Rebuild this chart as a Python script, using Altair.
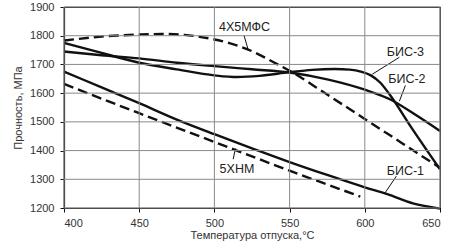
import altair as alt
import pandas as pd

# --- data ---
t_bis3 = [400, 425, 450, 475, 500, 515, 530, 550, 565, 580, 590, 598, 604, 610, 617, 630, 650]
v_bis3 = [1775, 1740, 1706, 1683, 1662, 1656, 1660, 1673, 1681, 1684, 1682, 1674, 1662, 1638, 1592, 1488, 1335]

t_bis2 = [400, 425, 450, 475, 500, 525, 550, 575, 600, 617, 635, 650]
v_bis2 = [1745, 1732, 1721, 1706, 1694, 1683, 1672, 1648, 1612, 1578, 1520, 1468]

t_4x5 = [400, 425, 450, 465, 480, 495, 510, 525, 540, 550, 575, 600, 625, 650]
v_4x5 = [1783, 1797, 1804, 1806, 1803, 1792, 1774, 1746, 1706, 1678, 1595, 1510, 1425, 1340]

t_5xnm = [400, 450, 500, 550, 597]
v_5xnm = [1632, 1530, 1430, 1330, 1240]

t_bis1 = [400, 425, 450, 475, 500, 525, 550, 575, 600, 615, 632, 650]
v_bis1 = [1675, 1620, 1565, 1508, 1457, 1408, 1360, 1315, 1272, 1248, 1216, 1198]

labels = ["4Х5МФС", "5ХНМ", "БИС-3", "БИС-2", "БИС-1"]
label_t = [520, 515, 627, 628, 627]
label_v = [1832, 1335, 1745, 1648, 1329]
lead_t1 = [519.7, 514, 623, 627, 621]
lead_v1 = [1801, 1407, 1725, 1627, 1311]
lead_t2 = [522.4, 512.5, 605, 623, 613]
lead_v2 = [1752, 1370, 1666, 1572, 1249]

x_ticks = [400, 450, 500, 550, 600, 650]
y_ticks = [1200, 1300, 1400, 1500, 1600, 1700, 1800, 1900]

FONT = "Liberation Sans"
W, H = 376, 201

xs = alt.Scale(domain=[400, 650], nice=False)
ys = alt.Scale(domain=[1200, 1900], nice=False)

x_axis = alt.Axis(values=x_ticks, title="Температура отпуска,°С",
                  format="d", labelOverlap=False, titlePadding=1)
y_axis = alt.Axis(values=y_ticks, title="Прочность, МПа",
                  format="d", labelOverlap=False, titlePadding=6)

GRID = "#8a8a8a"
vgrid = alt.Chart(pd.DataFrame({"gt": x_ticks})).mark_rule(
    strokeWidth=1).encode(
    x=alt.X("gt:Q", scale=xs, axis=x_axis),
    color=alt.value(GRID))
hgrid = alt.Chart(pd.DataFrame({"gv": y_ticks})).mark_rule(
    strokeWidth=1).encode(
    y=alt.Y("gv:Q", scale=ys, axis=y_axis),
    color=alt.value(GRID))


def series(t, v, dashed=False):
    df = pd.DataFrame({"t": t, "v": v})
    kw = dict(color="#111111", strokeWidth=2.4, interpolate="monotone")
    if dashed:
        kw["strokeDash"] = [10, 5]
    return alt.Chart(df).mark_line(**kw).encode(
        x=alt.X("t:Q", scale=xs, axis=x_axis),
        y=alt.Y("v:Q", scale=ys, axis=y_axis),
    )


lines = [
    series(t_bis3, v_bis3),
    series(t_bis2, v_bis2),
    series(t_4x5, v_4x5, dashed=True),
    series(t_5xnm, v_5xnm, dashed=True),
    series(t_bis1, v_bis1),
]

lab_df = pd.DataFrame({"label": labels, "t": label_t, "v": label_v,
                       "t1": lead_t1, "v1": lead_v1, "t2": lead_t2, "v2": lead_v2})

leaders = alt.Chart(lab_df).mark_rule(color="#111111", strokeWidth=1).encode(
    x=alt.X("t1:Q", scale=xs, axis=x_axis), y=alt.Y("v1:Q", scale=ys, axis=y_axis),
    x2="t2:Q", y2="v2:Q")

texts = alt.Chart(lab_df).mark_text(font=FONT, fontSize=12.5, color="#222222",
                                    baseline="middle", align="center").encode(
    x=alt.X("t:Q", scale=xs, axis=x_axis), y=alt.Y("v:Q", scale=ys, axis=y_axis),
    text="label:N")

chart = alt.layer(*lines, leaders, texts, vgrid, hgrid).properties(
    width=W, height=H,
    background="white",
    autosize=alt.AutoSizeParams(type="none"),
    padding={"left": 64, "top": 7, "right": 11, "bottom": 35},
).configure_view(
    stroke="#111111", strokeWidth=1.2
).configure_axis(
    labelFont=FONT, titleFont=FONT, labelFontSize=11, titleFontSize=11,
    labelColor="#333333", titleColor="#333333", titleFontWeight="normal",
    domainColor="#111111", domainWidth=1.2, tickColor="#111111", tickSize=4,
    grid=False,
).configure_axisX(
    labelPadding=5
).configure_axisY(
    labelPadding=6
)

chart.save("out.html", embed_options={"renderer": "svg", "actions": False})
